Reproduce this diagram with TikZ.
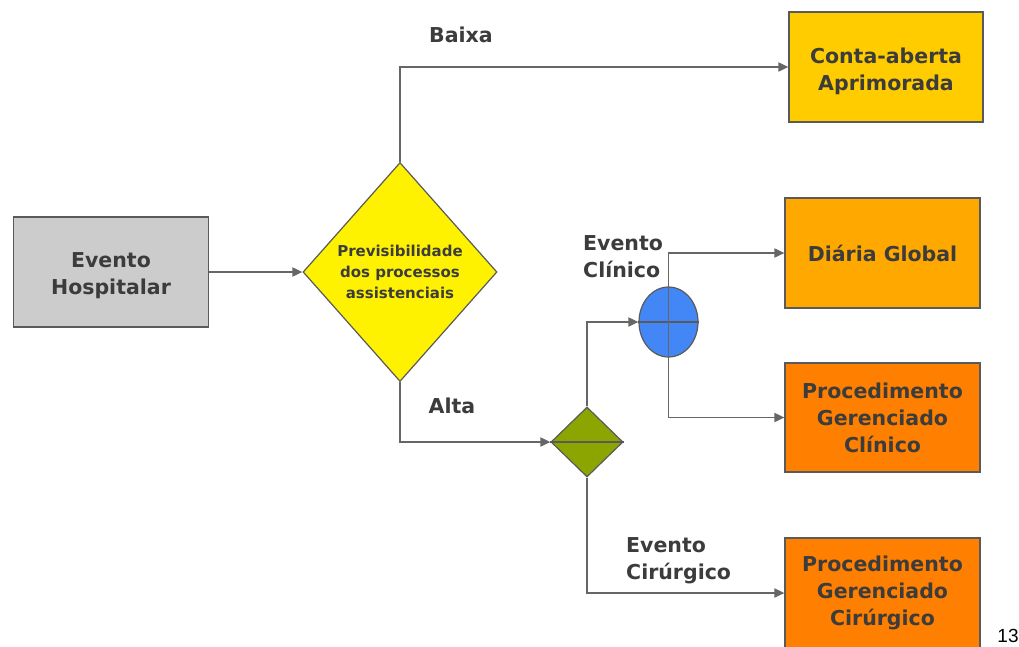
\documentclass[tikz,border=0pt]{standalone}
\usepackage{fontspec}
\setmainfont{DejaVu Sans}
\newfontfamily\arialfont{Liberation Sans}
\usetikzlibrary{shapes.geometric,arrows.meta}
\definecolor{txt}{HTML}{3C3C3C}
\definecolor{ln}{HTML}{666666}
\definecolor{bd}{HTML}{5A5A5A}
\definecolor{grayfill}{HTML}{CCCCCC}
\definecolor{gold}{HTML}{FFCC00}
\definecolor{amber}{HTML}{FFA800}
\definecolor{orng}{HTML}{FF7F00}
\definecolor{olive}{HTML}{8CA500}
\definecolor{blu}{HTML}{4287F5}
\tikzset{
  box/.style={draw=bd, line width=1.2pt, minimum width=195pt, minimum height=110pt, inner sep=0pt,
    align=center, font=\fontsize{20.5}{27}\selectfont\bfseries, text=txt},
  lbl/.style={font=\fontsize{20.5}{27}\selectfont\bfseries, text=txt, inner sep=0pt},
  conn/.style={draw=ln, line width=1.8pt, -{Triangle[length=10pt,width=9pt]}},
  plain/.style={draw=ln, line width=1.8pt}
}
\begin{document}
\begin{tikzpicture}[x=1pt,y=-1pt]
\useasboundingbox (0,0) rectangle (1019,646);
\fill[white] (0,0) rectangle (1019,646);
% boxes
\node[box, fill=grayfill] (eh) at (111,272) {};
\node[lbl, align=center] (ehT) at (111,276) {Evento\\Hospitalar};
\node[box, fill=gold, minimum width=194pt] (ca) at (886,67) {};
\node[lbl, align=center] (caT) at (886,71) {Conta-aberta\\Aprimorada};
\node[box, fill=amber] (dg) at (882.5,253) {Diária Global};
\node[box, fill=orng, minimum height=109pt] (pc) at (882.5,417.5) {Procedimento\\Gerenciado\\Clínico};
\node[box, fill=orng] (pr) at (882.5,593) {Procedimento\\Gerenciado\\Cirúrgico};
% decision diamond
\node[diamond, draw=bd, line width=1.2pt, fill=yellow, minimum width=194pt, minimum height=219pt,
  inner sep=0pt, align=center, font=\fontsize{15}{21}\selectfont\bfseries, text=txt] (d) at (400,272)
  {Previsibilidade\\dos processos\\assistenciais};
% green diamond
\node[diamond, draw=bd, line width=1.2pt, fill=olive, minimum width=72pt, minimum height=70pt, inner sep=0pt] (g) at (587,442) {};
\draw[bd, line width=1.2pt] (g.west) -- (g.east);
% blue ellipse
\node[ellipse, draw=bd, line width=1.2pt, fill=blu, minimum width=59pt, minimum height=70pt, inner sep=0pt] (e) at (668.5,322) {};
\draw[bd, line width=1.2pt] (e.west) -- (e.east);
\draw[plain] (e.north) -- (e.south);
% connectors
\draw[conn] (eh.east) -- (d.west);
\draw[conn] (d.north) |- (ca.west);
\draw[conn] (d.south) |- (g.west);
\draw[conn] (g.north) |- (e.west);
\draw[conn] (g.south) |- (pr.west);
\draw[conn] (e.north) |- (dg.west);
\draw[conn] (e.south) |- (pc.west);
% labels
\node[lbl] (lb) at (461,35) {Baixa};
\node[lbl] (la) at (452,406) {Alta};
\node[lbl, align=left, anchor=west] (lc) at (583,257) {Evento\\Clínico};
\node[lbl, align=left, anchor=west] (lr) at (626,561) {Evento\\Cirúrgico};
\node[font=\arialfont\fontsize{19}{21}\selectfont, text=black, inner sep=0pt] (pg) at (1008,636) {13};
\end{tikzpicture}
\end{document}
